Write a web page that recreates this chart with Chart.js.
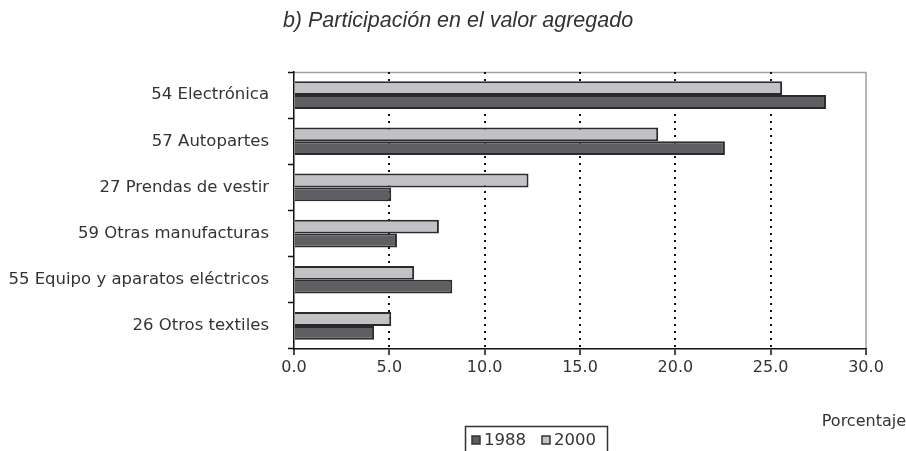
<!DOCTYPE html>
<html>
<head>
<meta charset="utf-8">
<script src="https://cdn.jsdelivr.net/npm/chart.js@4"></script>
<style>
    html, body { margin: 0; padding: 0; background: #fff; }
    #wrap { width: 906px; height: 451px; position: relative; }
</style>
</head>
<body>
<div id="wrap"><canvas id="chartCanvas"></canvas></div>
<script>
const categories = [
    '54 Electrónica',
    '57 Autopartes',
    '27 Prendas de vestir',
    '59 Otras manufacturas',
    '55 Equipo y aparatos eléctricos',
    '26 Otros textiles'
];
const values2000 = [25.6, 19.1, 12.3, 7.6, 6.3, 5.1];
const values1988 = [27.9, 22.6, 5.1, 5.4, 8.3, 4.2];
const xTicks = [0, 5, 10, 15, 20, 25, 30];

const titleText = 'b) Participación en el valor agregado';
const axisTitle = 'Porcentaje';
const FONT = '"DejaVu Sans", sans-serif';

// título, rótulo del eje y leyenda con marco
const extrasPlugin = {
    id: 'extras',
    beforeDraw(chart) {
        const ctx = chart.ctx;
        const area = chart.chartArea;
        ctx.save();
        ctx.fillStyle = '#fff';
        ctx.fillRect(0, 0, chart.width, chart.height);
        // borde gris superior y derecho del área
        ctx.strokeStyle = '#a0a0a0';
        ctx.lineWidth = 1.5;
        ctx.beginPath();
        ctx.moveTo(area.left, area.top + 0.5);
        ctx.lineTo(area.right, area.top + 0.5);
        ctx.lineTo(area.right, area.bottom);
        ctx.stroke();
        ctx.restore();
    },
    afterDraw(chart) {
        const ctx = chart.ctx;
        ctx.save();
        ctx.fillStyle = '#333';
        ctx.font = 'italic 21.5px "Liberation Sans", Arial, sans-serif';
        ctx.textAlign = 'center';
        ctx.textBaseline = 'middle';
        ctx.fillText(titleText, 458, 21);

        ctx.font = '16px ' + FONT;
        ctx.fillStyle = '#333';
        ctx.textAlign = 'right';
        ctx.fillText(axisTitle, 906, 422);

        // leyenda: 1988 primero
        const items = [chart.data.datasets[1], chart.data.datasets[0]];
        ctx.font = '16.5px ' + FONT;
        ctx.textAlign = 'left';
        let x = 472;
        const y = 440;
        items.forEach(ds => {
            ctx.fillStyle = ds.backgroundColor;
            ctx.strokeStyle = '#333';
            ctx.lineWidth = 1.5;
            ctx.fillRect(x, y - 4, 8, 8);
            ctx.strokeRect(x, y - 4, 8, 8);
            ctx.fillStyle = '#333';
            ctx.fillText(ds.label, x + 12, y + 1);
            x += 70;
        });
        ctx.strokeStyle = '#333';
        ctx.lineWidth = 1.5;
        ctx.strokeRect(465.5, 426.5, 142, 26);
        ctx.restore();
    }
};

const ctx = document.getElementById('chartCanvas').getContext('2d');
new Chart(ctx, {
    type: 'bar',
    data: {
        labels: categories,
        datasets: [
            {
                label: '2000',
                data: values2000,
                backgroundColor: '#c2c2c6',
                borderColor: '#2a2a2a',
                borderWidth: 2,
                categoryPercentage: 0.6,
                barPercentage: 1
            },
            {
                label: '1988',
                data: values1988,
                backgroundColor: '#5f5f63',
                borderColor: '#2a2a2a',
                borderWidth: 2,
                categoryPercentage: 0.6,
                barPercentage: 1
            }
        ]
    },
    options: {
        indexAxis: 'y',
        responsive: true,
        maintainAspectRatio: false,
        animation: false,
        layout: {
            padding: { top: 72, right: 40, bottom: 0, left: 0 }
        },
        plugins: {
            legend: { display: false },
            title: { display: false },
            tooltip: { enabled: false }
        },
        scales: {
            x: {
                type: 'linear',
                min: 0,
                max: 30,
                afterBuildTicks: scale => {
                    scale.ticks = xTicks.map(v => ({ value: v }));
                },
                afterFit: scale => { scale.height = 102; },
                ticks: {
                    color: '#333',
                    font: { family: FONT, size: 16 },
                    padding: 3,
                    maxRotation: 0,
                    callback: v => Number(v).toFixed(1)
                },
                grid: {
                    color: c => (c.tick && (c.tick.value === 0 || c.tick.value === 30)) ? 'rgba(0,0,0,0)' : '#111',
                    lineWidth: 2,
                    tickColor: '#111',
                    tickLength: 6,
                    tickWidth: 1.5
                },
                border: {
                    display: true,
                    color: '#111',
                    width: 1.5,
                    dash: [2, 5]
                }
            },
            y: {
                type: 'category',
                offset: true,
                afterFit: scale => { scale.width = 294; },
                ticks: {
                    color: '#333',
                    font: { family: FONT, size: 16.5 },
                    padding: 19
                },
                grid: {
                    offset: true,
                    drawOnChartArea: false,
                    tickColor: '#111',
                    tickLength: 6,
                    tickWidth: 1.5
                },
                border: {
                    display: true,
                    color: '#111',
                    width: 1.5
                }
            }
        }
    },
    plugins: [extrasPlugin]
});
</script>
</body>
</html>
